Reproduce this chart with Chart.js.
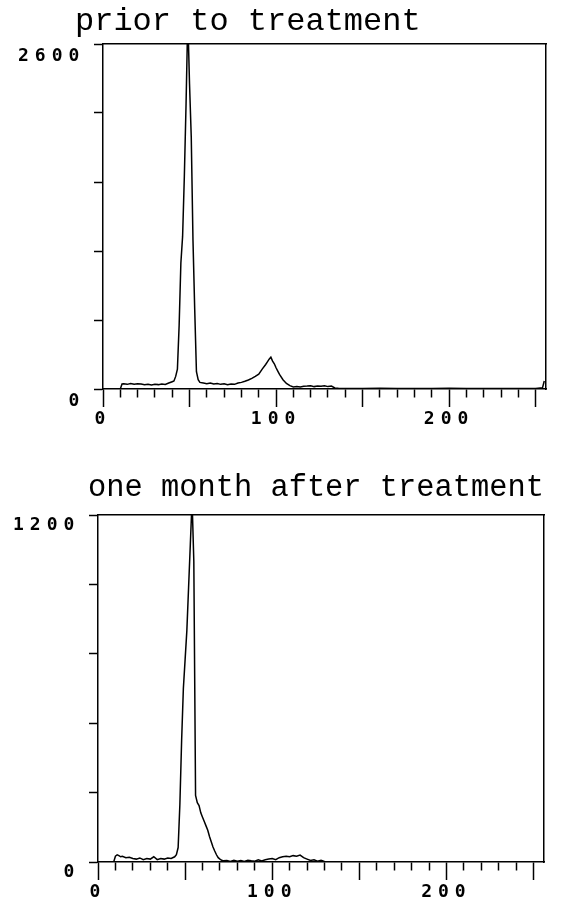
<!DOCTYPE html>
<html>
<head>
<meta charset="utf-8">
<script src="https://cdn.jsdelivr.net/npm/chart.js@4"></script>
<style>
  body { margin: 0; background: #fff; }
  .box { position: absolute; left: 0; width: 561px; height: 450px; }
  #top { top: 0; }
  #bottom { top: 450px; }
</style>
</head>
<body>
<div class="box" id="top"><canvas id="priorChart" width="561" height="450"></canvas></div>
<div class="box" id="bottom"><canvas id="afterChart" width="561" height="450"></canvas></div>
<script>
// channel numbers and counts
const priorChannels = [0, 10, 11, 12, 14, 16, 18, 20, 22, 24, 26, 28, 30, 32, 34, 36, 38, 40, 41, 42, 43, 44, 45, 46, 47, 48, 49, 50, 51, 52, 53, 54, 55, 56, 58, 60, 62, 64, 66, 68, 70, 72, 74, 76, 78, 80, 82, 84, 86, 88, 90, 92, 94, 95, 96, 97, 98, 99, 100, 101, 102, 104, 106, 108, 110, 112, 114, 116, 118, 120, 122, 124, 126, 128, 130, 132, 134, 136, 140, 150, 160, 170, 180, 190, 200, 210, 220, 230, 240, 250, 254, 255];
const priorCounts = [0, 0, 38, 40, 35, 42, 36, 40, 38, 33, 36, 30, 35, 33, 38, 34, 45, 55, 60, 95, 150, 480, 950, 1150, 1600, 2150, 2800, 2300, 1900, 1120, 600, 130, 70, 50, 45, 40, 45, 38, 42, 35, 40, 32, 38, 35, 45, 50, 58, 68, 80, 95, 112, 150, 185, 205, 225, 240, 210, 190, 160, 135, 110, 70, 42, 25, 16, 18, 15, 20, 22, 25, 18, 22, 20, 24, 18, 22, 8, 5, 4, 3, 5, 3, 4, 3, 5, 3, 4, 3, 4, 3, 10, 60];

const afterChannels = [0, 9, 10, 11, 12, 13, 14, 16, 18, 20, 22, 24, 26, 28, 30, 32, 34, 36, 38, 40, 42, 44, 45, 46, 47, 48, 49, 50, 51, 52, 53, 54, 55, 56, 57, 58, 59, 60, 61, 62, 63, 64, 65, 66, 67, 68, 69, 70, 71, 72, 74, 76, 78, 80, 82, 84, 86, 88, 90, 92, 94, 96, 98, 100, 102, 104, 106, 108, 110, 112, 114, 116, 118, 120, 122, 124, 126, 128, 130, 132, 256];
const afterCounts = [0, 0, 20, 25, 22, 18, 20, 15, 16, 12, 10, 14, 8, 12, 10, 18, 8, 12, 10, 14, 12, 18, 25, 50, 200, 420, 600, 700, 800, 950, 1100, 1250, 1040, 230, 205, 195, 170, 155, 140, 125, 110, 88, 70, 52, 38, 25, 15, 10, 6, 4, 5, 2, 6, 3, 5, 2, 6, 4, 3, 8, 4, 8, 10, 12, 8, 15, 18, 20, 18, 22, 20, 24, 15, 10, 5, 8, 3, 6, 2, 0, 0];

const xMax = 256;
const xTickLabels = [0, 100, 200];
const priorYMax = 2600;
const afterYMax = 1200;

// plotter style digits are spaced wide; only the tick labels get it
const tickSpacing = {
    id: 'tickSpacing',
    afterDatasetsDraw(chart) { chart.ctx.letterSpacing = '6px'; },
    afterDraw(chart) { chart.ctx.letterSpacing = '0px'; }
};

const tickFont = { family: 'DejaVu Sans Mono', size: 18, weight: 'bold' };

function makeChart(id, title, channels, counts, yMax, s) {
    const points = channels.map((c, i) => ({ x: c, y: counts[i] }));
    return new Chart(document.getElementById(id), {
        type: 'line',
        data: {
            datasets: [{
                data: points,
                borderColor: '#000',
                borderWidth: 1.5,
                pointRadius: 0,
                fill: false,
                tension: 0
            }]
        },
        plugins: [tickSpacing],
        options: {
            responsive: false,
            animation: false,
            events: [],
            layout: { padding: { left: s.left, right: s.right, top: 0, bottom: 0 } },
            plugins: {
                legend: { display: false },
                tooltip: { enabled: false },
                title: {
                    display: true,
                    text: title,
                    align: 'start',
                    color: '#000',
                    font: { family: 'Liberation Mono', size: s.titleSize, weight: 'normal', lineHeight: 1.2 },
                    padding: { top: s.titleTop, bottom: s.titleBottom }
                }
            },
            scales: {
                x: {
                    type: 'linear',
                    position: 'bottom',
                    min: 0,
                    max: xMax,
                    afterFit: (sc) => { sc.height = s.xHeight; },
                    border: { display: true, color: '#000', width: 1.5 },
                    grid: {
                        drawOnChartArea: false,
                        tickLength: 18,
                        tickColor: '#000',
                        tickWidth: 1.5,
                        tickBorderDash: (ctx) => (ctx.tick && ctx.tick.value % 50 === 0) ? [] : [8, 40]
                    },
                    ticks: {
                        stepSize: 10,
                        includeBounds: false,
                        autoSkip: false,
                        maxRotation: 0,
                        padding: 2,
                        z: 1,
                        color: '#000',
                        font: tickFont,
                        callback: (v) => xTickLabels.includes(v) ? String(v) : ''
                    }
                },
                y: {
                    type: 'linear',
                    position: 'left',
                    min: 0,
                    max: yMax,
                    afterFit: (sc) => { sc.width = s.yWidth; },
                    border: { display: true, color: '#000', width: 1.5 },
                    grid: {
                        drawOnChartArea: false,
                        tickLength: 9,
                        tickColor: '#000',
                        tickWidth: 1.5
                    },
                    ticks: {
                        stepSize: yMax / 5,
                        autoSkip: false,
                        // mirror + far alignment keeps labels unclipped left of the narrow axis box
                        mirror: true,
                        crossAlign: 'far',
                        padding: -61,
                        labelOffset: s.labelOffset,
                        z: 1,
                        color: '#000',
                        font: tickFont,
                        callback: (v) => (v === 0 || v === yMax) ? String(v) : ''
                    }
                },
                x2: {
                    type: 'linear',
                    position: 'top',
                    min: 0,
                    max: 1,
                    afterFit: (sc) => { sc.height = 0; },
                    border: { display: true, color: '#000', width: 1.5 },
                    grid: { display: false },
                    ticks: { display: false }
                },
                y2: {
                    type: 'linear',
                    position: 'right',
                    min: 0,
                    max: 1,
                    afterFit: (sc) => { sc.width = 0; },
                    border: { display: true, color: '#000', width: 1.5 },
                    grid: { display: false },
                    ticks: { display: false }
                }
            }
        }
    });
}

makeChart('priorChart', 'prior to treatment', priorChannels, priorCounts, priorYMax,
    { left: 75, right: 15, titleSize: 32, titleTop: 2, titleBottom: 3.6, xHeight: 61, yWidth: 28, labelOffset: 12 });
makeChart('afterChart', 'one month after treatment', afterChannels, afterCounts, afterYMax,
    { left: 88, right: 17, titleSize: 31, titleTop: 19, titleBottom: 8.8, xHeight: 38, yWidth: 10, labelOffset: 10 });
</script>
</body>
</html>
